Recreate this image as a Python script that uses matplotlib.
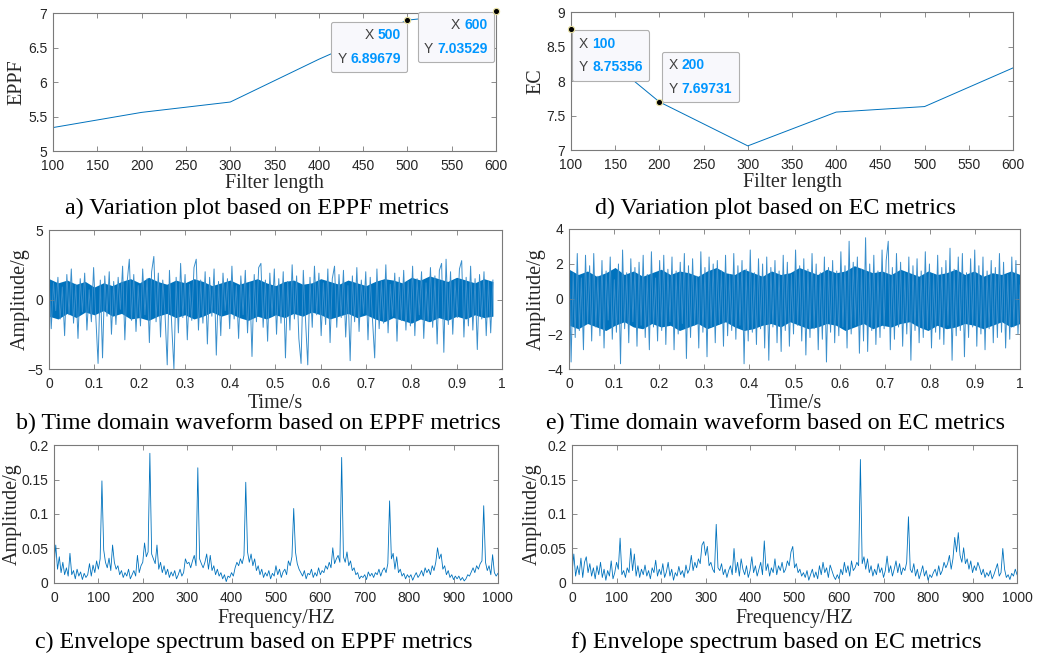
import numpy as np
import matplotlib
matplotlib.use("Agg")
import matplotlib.pyplot as plt
from matplotlib.offsetbox import TextArea, HPacker, VPacker, AnnotationBbox

# a) / d) metric vs filter length
filter_len = [100, 200, 300, 400, 500, 600]
eppf = [5.34, 5.56, 5.71, 6.33, 6.89679, 7.03529]
ec = [8.75356, 7.69731, 7.06, 7.55, 7.63, 8.19]

# b) time waveform, EPPF (0 - 0.98 s)
wave_eppf = [
    1.9, -2.1, 1.2, -0.8, 1.6, -1.4, 0.9, -2.6, 1.8, -1.1,
    2.2, -1.7, 1.1, -2.8, 1.5, -0.9, 1.9, -2.2, 0.7, -1.6,
    2.3, -1.3, -4.6, 1.4, -4.2, 1.7, -1.2, 2.0, -2.5, 1.3,
    -1.8, 1.6, -0.7, 2.4, -2.9, 1.2, 2.9, -1.5, 1.8, -2.3,
    1.0, -1.9, 2.2, -1.1, 1.5, -3.1, 2.0, 3.1, -1.6, 1.9,
    -2.7, 1.4, -1.0, -4.7, 2.1, -1.8, -5.0, 1.6, -2.4, 2.6,
    -1.3, 1.8, -2.9, 1.1, -1.5, 2.3, 2.9, -2.2, 1.4, -1.7,
    2.0, -3.2, 1.6, -1.2, 2.2, -4.0, 1.3, -2.6, 1.9, -0.8,
    1.5, -2.1, 2.4, -1.4, 1.0, -2.8, 1.7, -1.1, 2.1, -2.4,
    1.2, -4.1, 1.8, -1.6, 2.3, 2.6, -2.0, 1.4, -3.0, 1.9,
    -1.2, 2.2, -2.5, 1.5, -1.7, 2.0, -4.2, 1.3, -2.2, 2.5,
    -1.4, 1.7, -2.8, -4.6, 2.1, -1.5, -4.7, 1.6, -2.0, 2.4,
    -1.1, 1.9, -2.6, 1.2, -1.8, 2.2, -3.1, 1.5, 2.4, -2.0,
    1.8, -1.3, 2.1, -2.7, 1.0, -4.4, 1.7, -1.6, 2.3, -2.3,
    1.4, -1.0, 2.0, -2.9, 1.6, -1.4, -4.2, 2.2, -2.1, 1.3,
    -1.7, 2.5, -2.4, 1.1, -1.2, 1.9, -3.0, 1.6, -1.5, 2.1,
    -2.2, 1.3, -1.9, 2.4, -2.6, 1.5, -1.1, 2.0, -2.8, 1.2,
    -1.6, 2.3, -2.0, 1.7, -3.2, 2.1, 2.6, -3.8, 2.9, -1.8,
    2.0, -2.5, 1.4, -1.3, 2.2, 2.8, -2.7, 1.6, -1.9, 2.4,
    -2.2, 1.5, -3.6, 1.8, -1.4, 2.0, -2.6, 1.3, -2.4, 1.4,
]
# dense dark core of the EPPF waveform (every 0.02 s)
core_eppf_hi = [1.5, 1.2, 1.4, 1.1, 1.3, 0.9, 1.2, 1.0, 1.3, 1.5, 1.2, 1.6, 1.3, 1.1, 1.4, 1.2, 1.5,
                1.3, 1.0, 1.2, 1.4, 1.1, 1.3, 1.5, 1.2, 1.0, 1.3, 1.4, 1.1, 1.2, 1.5, 1.3, 1.1, 1.4,
                1.2, 1.0, 1.3, 1.5, 1.4, 1.2, 1.6, 1.4, 1.7, 1.5, 1.3, 1.6, 1.4, 1.2, 1.5, 1.3]
core_eppf_lo = [-1.2, -1.4, -1.0, -1.3, -0.9, -1.1, -0.8, -1.2, -1.0, -1.4, -1.3, -1.5, -1.2, -1.0,
                -1.3, -1.1, -1.4, -1.2, -0.9, -1.2, -1.0, -1.3, -1.5, -1.2, -1.4, -1.1, -1.3, -1.0,
                -1.2, -0.9, -1.1, -1.4, -1.2, -1.0, -1.3, -1.1, -1.4, -1.6, -1.3, -1.5, -1.7, -1.4,
                -1.6, -1.3, -1.5, -1.2, -1.4, -1.1, -1.3, -1.2]

# e) time waveform, EC (0 - 1 s)
wave_ec = [
    2.4, -3.6, 1.5, -2.2, 2.6, -1.8, 1.2, -2.9, 2.5, -1.4,
    1.9, -2.4, 2.6, -1.6, 1.3, -2.1, 2.2, -2.8, 1.6, -1.2,
    2.4, -2.3, 1.1, -1.9, 2.0, -3.7, 2.8, -1.7, 1.5, -2.5,
    2.3, -1.3, 1.8, -2.7, 2.1, -1.5, 2.5, -2.2, 1.4, -2.9,
    2.7, -1.6, 1.2, -2.4, 2.2, -1.8, 2.5, -2.6, 1.7, -1.3,
    2.4, -2.9, 1.6, -2.0, 2.1, -1.4, 2.6, -3.4, 1.9, -2.2,
    2.3, -1.5, 1.3, -2.8, 2.7, -1.9, 1.8, -3.3, 2.4, -1.6,
    2.0, -2.5, 2.2, -1.4, 1.6, -2.7, 2.5, -2.1, 1.4, -1.8,
    2.6, -2.3, 1.9, -1.5, 2.2, -3.7, 1.7, -2.4, 2.8, -1.9,
    1.5, -2.6, 2.3, -1.7, 2.0, -2.8, 2.4, -3.5, 1.8, -1.6,
    2.2, -2.5, 1.6, -3.0, 2.5, -1.8, 2.1, -2.7, 1.4, -2.0,
    2.8, -1.5, 1.9, -2.4, 2.3, -3.2, 1.7, -2.2, 2.6, -1.7,
    2.0, -2.9, 1.5, -2.3, 2.4, -3.6, 1.8, -1.9, 2.2, -2.5,
    1.6, -2.1, 2.7, -1.6, 1.9, -2.8, 3.3, -2.0, 2.1, -1.5,
    2.4, -3.1, 1.7, -2.4, 3.5, -3.0, 2.0, -1.8, 2.5, -2.6,
    1.6, -2.2, 2.8, -1.7, 2.2, 3.3, -2.9, 1.8, -2.3, 2.6,
    -1.6, 2.1, -2.7, 1.5, -2.0, 2.4, -3.5, 1.9, -1.8, 2.3,
    -2.5, 1.6, -2.2, 2.7, -1.7, 2.0, -2.8, 1.4, -1.9, 2.5,
    -2.3, 1.8, -2.6, 2.2, -1.5, 2.9, -3.5, 1.7, -2.1, 2.4,
    -1.8, 2.6, -3.3, 1.5, -2.2, 2.3, -1.6, 2.8, -2.7, 1.9,
    -2.0, 2.4, -2.9, 1.6, -1.7, 2.2, -2.5, 1.8, -2.2, 2.6,
    -1.9, 2.1, -2.8, 1.4, -2.3, 2.4, -1.6, 2.2, -2.0, 0.8,
]
core_ec_hi = [1.7, 1.4, 1.6, 1.3, 1.5, 1.8, 1.4, 1.6, 1.3, 1.5, 1.7, 1.4, 1.6, 1.5, 1.3, 1.6, 1.8,
              1.5, 1.4, 1.7, 1.5, 1.3, 1.6, 1.4, 1.5, 1.8, 1.6, 1.4, 1.7, 1.5, 1.6, 1.9, 1.7, 1.5,
              1.6, 1.4, 1.7, 1.5, 1.3, 1.6, 1.4, 1.5, 1.7, 1.4, 1.6, 1.3, 1.5, 1.4, 1.6, 1.4]
core_ec_lo = [-1.5, -1.7, -1.4, -1.6, -1.8, -1.5, -1.3, -1.6, -1.7, -1.4, -1.6, -1.5, -1.8, -1.6,
              -1.4, -1.7, -1.5, -1.3, -1.6, -1.8, -1.7, -1.5, -1.4, -1.6, -1.3, -1.5, -1.7, -1.6,
              -1.4, -1.5, -1.8, -1.6, -1.4, -1.7, -1.5, -1.6, -1.4, -1.3, -1.6, -1.8, -1.5, -1.7,
              -1.6, -1.4, -1.5, -1.7, -1.5, -1.3, -1.6, -1.4]

# c) envelope spectrum, EPPF (0 - 1000 Hz, 4 Hz steps)
spec_eppf = [
    0.025, 0.055, 0.020, 0.038, 0.015, 0.030, 0.012, 0.022, 0.010, 0.043,
    0.012, 0.018, 0.006, 0.020, 0.010, 0.016, 0.005, 0.014, 0.008, 0.012,
    0.028, 0.010, 0.026, 0.015, 0.032, 0.020, 0.035, 0.148, 0.048, 0.030,
    0.022, 0.036, 0.018, 0.055, 0.030, 0.020, 0.025, 0.012, 0.018, 0.008,
    0.015, 0.010, 0.020, 0.006, 0.012, 0.018, 0.010, 0.040, 0.015, 0.025,
    0.030, 0.058, 0.038, 0.045, 0.188, 0.042, 0.035, 0.028, 0.055, 0.020,
    0.030, 0.015, 0.025, 0.012, 0.020, 0.008, 0.016, 0.010, 0.018, 0.006,
    0.012, 0.020, 0.010, 0.015, 0.035, 0.028, 0.030, 0.022, 0.032, 0.040,
    0.025, 0.167, 0.035, 0.028, 0.022, 0.030, 0.042, 0.020, 0.040, 0.018,
    0.025, 0.012, 0.020, 0.010, 0.015, 0.006, 0.012, 0.002, 0.010, 0.008,
    0.015, 0.010, 0.022, 0.030, 0.025, 0.035, 0.028, 0.040, 0.146, 0.045,
    0.030, 0.042, 0.025, 0.035, 0.018, 0.025, 0.012, 0.020, 0.008, 0.015,
    0.010, 0.018, 0.006, 0.014, 0.010, 0.025, 0.012, 0.020, 0.008, 0.016,
    0.020, 0.012, 0.032, 0.025, 0.038, 0.108, 0.045, 0.028, 0.020, 0.015,
    0.010, 0.018, 0.006, 0.014, 0.012, 0.020, 0.008, 0.015, 0.010, 0.022,
    0.012, 0.018, 0.015, 0.025, 0.020, 0.030, 0.022, 0.051, 0.028, 0.035,
    0.040, 0.030, 0.182, 0.038, 0.030, 0.045, 0.025, 0.032, 0.018, 0.022,
    0.012, 0.015, 0.006, 0.010, 0.008, 0.012, 0.005, 0.016, 0.010, 0.014,
    0.008, 0.015, 0.012, 0.020, 0.010, 0.018, 0.022, 0.015, 0.028, 0.119,
    0.035, 0.043, 0.020, 0.038, 0.015, 0.020, 0.010, 0.014, 0.006, 0.012,
    0.008, 0.012, 0.004, 0.010, 0.015, 0.008, 0.012, 0.018, 0.010, 0.022,
    0.015, 0.020, 0.012, 0.025, 0.018, 0.030, 0.051, 0.035, 0.042, 0.020,
    0.025, 0.012, 0.018, 0.008, 0.012, 0.005, 0.010, 0.006, 0.010, 0.004,
    0.008, 0.003, 0.006, 0.012, 0.010, 0.016, 0.022, 0.015, 0.025, 0.020,
    0.028, 0.032, 0.112, 0.030, 0.018, 0.025, 0.012, 0.041, 0.015, 0.010, 0.014,
]

# f) envelope spectrum, EC
spec_ec = [
    0.015, 0.042, 0.010, 0.025, 0.012, 0.036, 0.008, 0.030, 0.038, 0.015,
    0.028, 0.010, 0.022, 0.006, 0.025, 0.012, 0.030, 0.008, 0.020, 0.004,
    0.018, 0.010, 0.032, 0.006, 0.015, 0.030, 0.020, 0.065, 0.012, 0.018,
    0.008, 0.022, 0.015, 0.050, 0.018, 0.042, 0.010, 0.025, 0.008, 0.020,
    0.012, 0.026, 0.010, 0.018, 0.006, 0.022, 0.015, 0.033, 0.010, 0.020,
    0.012, 0.028, 0.008, 0.016, 0.030, 0.010, 0.020, 0.004, 0.015, 0.010,
    0.024, 0.012, 0.018, 0.008, 0.026, 0.014, 0.020, 0.040, 0.018, 0.030,
    0.022, 0.035, 0.028, 0.055, 0.060, 0.040, 0.053, 0.025, 0.030, 0.020,
    0.015, 0.085, 0.022, 0.018, 0.028, 0.012, 0.020, 0.008, 0.018, 0.025,
    0.012, 0.050, 0.015, 0.030, 0.010, 0.035, 0.020, 0.012, 0.025, 0.008,
    0.018, 0.038, 0.015, 0.025, 0.010, 0.020, 0.030, 0.012, 0.061, 0.018,
    0.028, 0.010, 0.022, 0.015, 0.035, 0.012, 0.025, 0.018, 0.030, 0.015,
    0.020, 0.032, 0.025, 0.045, 0.053, 0.022, 0.028, 0.015, 0.020, 0.010,
    0.015, 0.008, 0.018, 0.004, 0.012, 0.020, 0.008, 0.016, 0.006, 0.025,
    0.012, 0.030, 0.015, 0.022, 0.008, 0.026, 0.018, 0.010, 0.005, 0.012,
    0.006, 0.020, 0.012, 0.030, 0.015, 0.025, 0.010, 0.032, 0.018, 0.022,
    0.030, 0.025, 0.179, 0.028, 0.038, 0.020, 0.035, 0.015, 0.025, 0.010,
    0.020, 0.012, 0.028, 0.015, 0.022, 0.008, 0.018, 0.039, 0.015, 0.025,
    0.010, 0.020, 0.032, 0.015, 0.028, 0.012, 0.022, 0.018, 0.030, 0.096,
    0.020, 0.015, 0.028, 0.010, 0.020, 0.006, 0.015, 0.025, 0.010, 0.018,
    0.004, 0.012, 0.008, 0.015, 0.020, 0.010, 0.025, 0.012, 0.018, 0.030,
    0.022, 0.028, 0.040, 0.020, 0.035, 0.066, 0.045, 0.073, 0.040, 0.030,
    0.051, 0.028, 0.035, 0.020, 0.032, 0.015, 0.025, 0.018, 0.030, 0.022,
    0.012, 0.020, 0.008, 0.015, 0.010, 0.018, 0.006, 0.012, 0.020, 0.028,
    0.010, 0.015, 0.050, 0.020, 0.008, 0.012, 0.005, 0.014, 0.010, 0.020, 0.012,
]

BLUE = '#0072BD'
LIGHT = '#3A8FCC'
GRAY = '#262626'
SANS = 'Liberation Sans'
SERIF = 'Liberation Serif'

fig = plt.figure(figsize=(10.38, 6.58), dpi=100)


def style_axes(ax, xlabel, ylabel, xlab_y, ylab_x):
    for s in ax.spines.values():
        s.set_color('#7a7a7a')
        s.set_linewidth(0.8)
    ax.tick_params(direction='in', length=3.5, width=0.6, color='#7a7a7a',
                   labelsize=10, labelcolor=GRAY, top=True, right=True, pad=4)
    ax.tick_params(axis='x', pad=5.5)
    for lab in ax.get_xticklabels() + ax.get_yticklabels():
        lab.set_fontfamily(SANS)
    ax.set_xlabel(xlabel, fontfamily=SERIF, fontsize=14.5, color=GRAY, va='center')
    ax.set_ylabel(ylabel, fontfamily=SERIF, fontsize=14.5, color=GRAY, va='center')
    ax.xaxis.set_label_coords(0.5, xlab_y)
    ax.yaxis.set_label_coords(ylab_x, 0.5)


def datatip(ax, x, y, ytxt, corner, offset, align):
    ax.plot(x, y, 'o', ms=4.5, mfc='k', mec='#e8e0a0', mew=0.8, zorder=6, clip_on=False)
    rows = []
    for name, val in (('X', f'{x:g}'), ('Y', ytxt)):
        rows.append(HPacker(children=[
            TextArea(name, textprops=dict(color='#404040', size=10, family=SANS)),
            TextArea(val, textprops=dict(color='#0096FF', size=10, family=SANS, weight='bold'))],
            sep=3, pad=0))
    box = VPacker(children=rows, align=align, sep=7, pad=0)
    ab = AnnotationBbox(box, (x, y), xybox=offset, xycoords='data', boxcoords='offset points',
                        box_alignment=corner, pad=0.45, zorder=5, annotation_clip=False,
                        bboxprops=dict(fc='#F8F8FC', ec='#B0B0B0', lw=0.8,
                                       boxstyle='round,pad=0.45,rounding_size=0.15'))
    ax.add_artist(ab)


# a)
ax = fig.add_axes([0.0511, 0.7705, 0.4268, 0.2097])
ax.plot(filter_len, eppf, color=BLUE, lw=0.7)
ax.set_xlim(100, 600)
ax.set_ylim(5, 7)
ax.set_xticks(range(100, 601, 50))
ax.set_yticks([5, 5.5, 6, 6.5, 7])
ax.set_yticklabels(['5', '5.5', '6', '6.5', '7'])
style_axes(ax, 'Filter length', 'EPPF', -0.232, -0.081)
datatip(ax, 500, 6.89679, '6.89679', (1, 1), (-4.5, -5.5), 'right')
datatip(ax, 600, 7.03529, '7.03529', (1, 1), (-6, -5.5), 'right')

# d)
ax = fig.add_axes([0.5501, 0.7720, 0.4258, 0.2097])
ax.plot(filter_len, ec, color=BLUE, lw=0.7)
ax.set_xlim(100, 600)
ax.set_ylim(7, 9)
ax.set_xticks(range(100, 601, 50))
ax.set_yticks([7, 7.5, 8, 8.5, 9])
ax.set_yticklabels(['7', '7.5', '8', '8.5', '9'])
style_axes(ax, 'Filter length', 'EC', -0.232, -0.079)
datatip(ax, 100, 8.75356, '8.75356', (0, 1), (5.5, -5.5), 'left')
datatip(ax, 200, 7.69731, '7.69731', (0, 0), (6.5, 4.5), 'left')

# b)
ax = fig.add_axes([0.0472, 0.4392, 0.4364, 0.2112])
ax.fill_between(np.linspace(0, 0.98, len(core_eppf_hi)), core_eppf_lo, core_eppf_hi,
                color=BLUE, lw=0)
ax.plot(np.linspace(0, 0.98, len(wave_eppf)), wave_eppf, color=LIGHT, lw=0.7)
ax.set_xlim(0, 1)
ax.set_ylim(-5, 5)
ax.set_xticks(np.arange(0, 1.01, 0.1))
ax.set_xticklabels(['0', '0.1', '0.2', '0.3', '0.4', '0.5', '0.6', '0.7', '0.8', '0.9', '1'])
ax.set_yticks([-5, 0, 5])
style_axes(ax, 'Time/s', 'Amplitude/g', -0.245, -0.064)

# e)
ax = fig.add_axes([0.5482, 0.4392, 0.4345, 0.2128])
ax.fill_between(np.linspace(0, 1, len(core_ec_hi)), core_ec_lo, core_ec_hi,
                color=BLUE, lw=0)
ax.plot(np.linspace(0, 1, len(wave_ec)), wave_ec, color=LIGHT, lw=0.7)
ax.set_xlim(0, 1)
ax.set_ylim(-4, 4)
ax.set_xticks(np.arange(0, 1.01, 0.1))
ax.set_xticklabels(['0', '0.1', '0.2', '0.3', '0.4', '0.5', '0.6', '0.7', '0.8', '0.9', '1'])
ax.set_yticks([-4, -2, 0, 2, 4])
style_axes(ax, 'Time/s', 'Amplitude/g', -0.245, -0.073)

# c)
ax = fig.add_axes([0.0520, 0.1140, 0.4277, 0.2097])
ax.plot(np.linspace(0, 1000, len(spec_eppf)), spec_eppf, color=BLUE, lw=0.6)
ax.set_xlim(0, 1000)
ax.set_ylim(0, 0.2)
ax.set_xticks(range(0, 1001, 100))
ax.set_yticks([0, 0.05, 0.1, 0.15, 0.2])
ax.set_yticklabels(['0', '0.05', '0.1', '0.15', '0.2'])
style_axes(ax, 'Frequency/HZ', 'Amplitude/g', -0.254, -0.095)

# f)
ax = fig.add_axes([0.5511, 0.1140, 0.4287, 0.2097])
ax.plot(np.linspace(0, 1000, len(spec_ec)), spec_ec, color=BLUE, lw=0.6)
ax.set_xlim(0, 1000)
ax.set_ylim(0, 0.2)
ax.set_xticks(range(0, 1001, 100))
ax.set_yticks([0, 0.05, 0.1, 0.15, 0.2])
ax.set_yticklabels(['0', '0.05', '0.1', '0.15', '0.2'])
style_axes(ax, 'Frequency/HZ', 'Amplitude/g', -0.254, -0.09)

captions = [
    (257, 208, 'a) Variation plot based on EPPF metrics'),
    (258, 423, 'b) Time domain waveform based on EPPF metrics'),
    (254, 642, 'c) Envelope spectrum based on EPPF metrics'),
    (775, 208, 'd) Variation plot based on EC metrics'),
    (776, 423, 'e) Time domain waveform based on EC metrics'),
    (776, 642, 'f) Envelope spectrum based on EC metrics'),
]
for px, py, txt in captions:
    fig.text(px / 1038, 1 - py / 658, txt, ha='center', va='center',
             fontfamily=SERIF, fontsize=17.3, color='black')

fig.savefig('out.png', dpi=100)
